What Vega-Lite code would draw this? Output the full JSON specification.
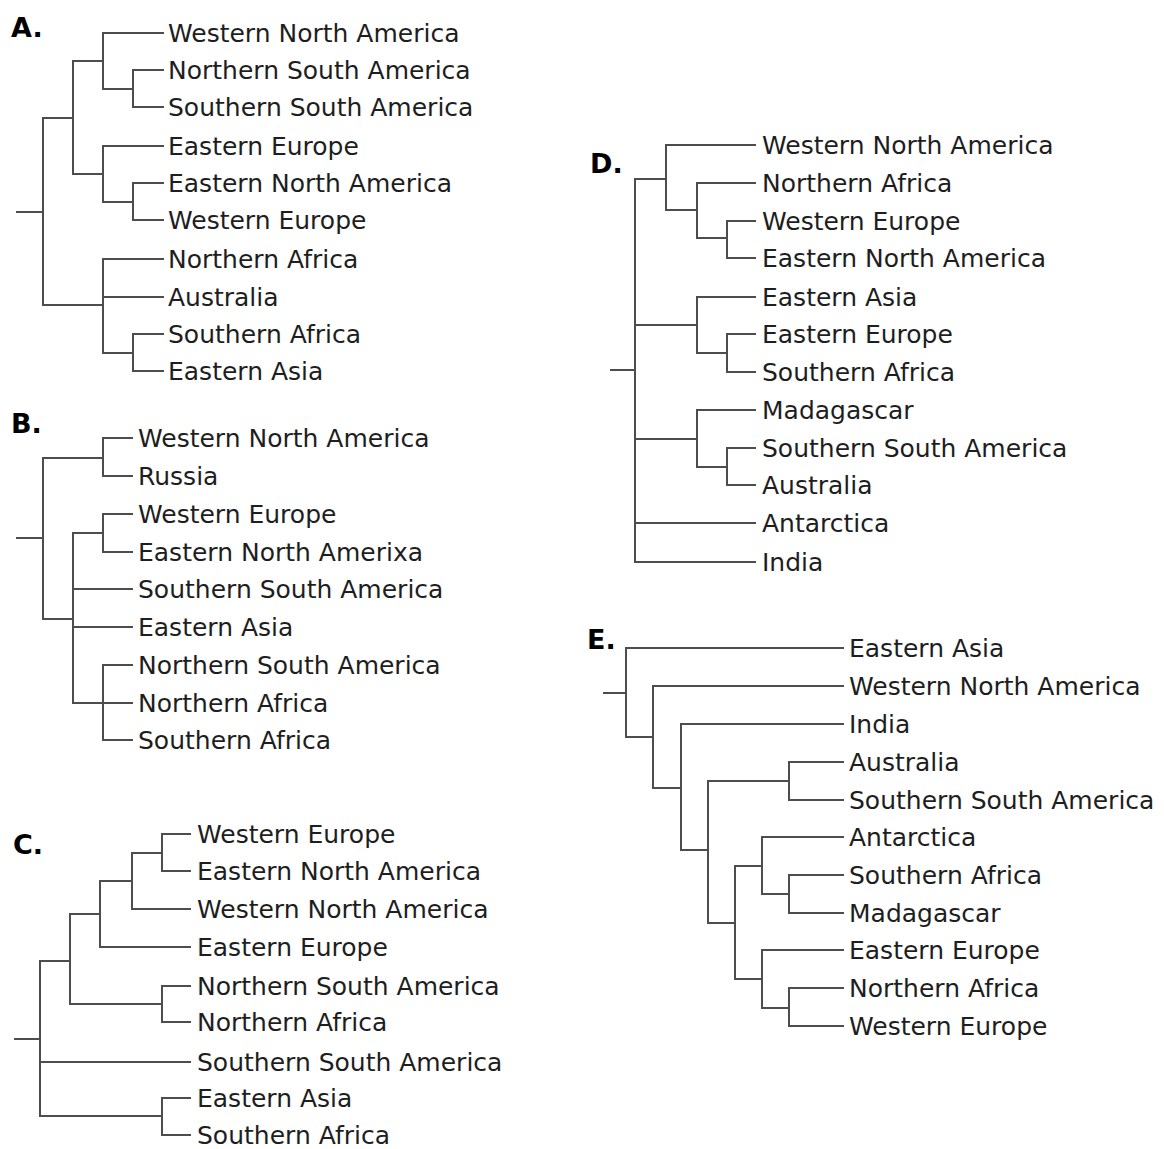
{
  "$schema": "https://vega.github.io/schema/vega-lite/v6.json",
  "width": 1164,
  "height": 1149,
  "padding": 0,
  "autosize": {"type": "fit", "contains": "padding"},
  "background": "white",
  "config": {"view": {"stroke": null}},
  "datasets": {
    "edges": [
      {"p":"A","x":17,"y":212,"x2":43,"y2":212},
      {"p":"A","x":43,"y":118,"x2":43,"y2":305},
      {"p":"A","x":43,"y":118,"x2":73,"y2":118},
      {"p":"A","x":43,"y":305,"x2":103,"y2":305},
      {"p":"A","x":73,"y":61,"x2":73,"y2":174},
      {"p":"A","x":73,"y":61,"x2":103,"y2":61},
      {"p":"A","x":73,"y":174,"x2":103,"y2":174},
      {"p":"A","x":103,"y":33,"x2":103,"y2":89},
      {"p":"A","x":103,"y":33,"x2":163,"y2":33},
      {"p":"A","x":103,"y":89,"x2":133,"y2":89},
      {"p":"A","x":133,"y":70,"x2":133,"y2":107},
      {"p":"A","x":133,"y":70,"x2":163,"y2":70},
      {"p":"A","x":133,"y":107,"x2":163,"y2":107},
      {"p":"A","x":103,"y":146,"x2":103,"y2":202},
      {"p":"A","x":103,"y":146,"x2":163,"y2":146},
      {"p":"A","x":103,"y":202,"x2":133,"y2":202},
      {"p":"A","x":133,"y":183,"x2":133,"y2":220},
      {"p":"A","x":133,"y":183,"x2":163,"y2":183},
      {"p":"A","x":133,"y":220,"x2":163,"y2":220},
      {"p":"A","x":103,"y":259,"x2":103,"y2":353},
      {"p":"A","x":103,"y":259,"x2":163,"y2":259},
      {"p":"A","x":103,"y":297,"x2":163,"y2":297},
      {"p":"A","x":103,"y":353,"x2":133,"y2":353},
      {"p":"A","x":133,"y":334,"x2":133,"y2":371},
      {"p":"A","x":133,"y":334,"x2":163,"y2":334},
      {"p":"A","x":133,"y":371,"x2":163,"y2":371},

      {"p":"B","x":17,"y":538,"x2":43,"y2":538},
      {"p":"B","x":43,"y":458,"x2":43,"y2":619},
      {"p":"B","x":43,"y":458,"x2":103,"y2":458},
      {"p":"B","x":43,"y":619,"x2":73,"y2":619},
      {"p":"B","x":103,"y":438,"x2":103,"y2":476},
      {"p":"B","x":103,"y":438,"x2":132,"y2":438},
      {"p":"B","x":103,"y":476,"x2":132,"y2":476},
      {"p":"B","x":73,"y":533,"x2":73,"y2":703},
      {"p":"B","x":73,"y":533,"x2":103,"y2":533},
      {"p":"B","x":73,"y":589,"x2":132,"y2":589},
      {"p":"B","x":73,"y":627,"x2":132,"y2":627},
      {"p":"B","x":73,"y":703,"x2":103,"y2":703},
      {"p":"B","x":103,"y":514,"x2":103,"y2":552},
      {"p":"B","x":103,"y":514,"x2":132,"y2":514},
      {"p":"B","x":103,"y":552,"x2":132,"y2":552},
      {"p":"B","x":103,"y":665,"x2":103,"y2":740},
      {"p":"B","x":103,"y":665,"x2":132,"y2":665},
      {"p":"B","x":103,"y":703,"x2":132,"y2":703},
      {"p":"B","x":103,"y":740,"x2":132,"y2":740},

      {"p":"C","x":15,"y":1039,"x2":40,"y2":1039},
      {"p":"C","x":40,"y":961,"x2":40,"y2":1116},
      {"p":"C","x":40,"y":961,"x2":70,"y2":961},
      {"p":"C","x":40,"y":1062,"x2":190,"y2":1062},
      {"p":"C","x":40,"y":1116,"x2":162,"y2":1116},
      {"p":"C","x":70,"y":914,"x2":70,"y2":1004},
      {"p":"C","x":70,"y":914,"x2":100,"y2":914},
      {"p":"C","x":70,"y":1004,"x2":162,"y2":1004},
      {"p":"C","x":100,"y":881,"x2":100,"y2":947},
      {"p":"C","x":100,"y":881,"x2":132,"y2":881},
      {"p":"C","x":100,"y":947,"x2":190,"y2":947},
      {"p":"C","x":132,"y":853,"x2":132,"y2":909},
      {"p":"C","x":132,"y":853,"x2":162,"y2":853},
      {"p":"C","x":132,"y":909,"x2":190,"y2":909},
      {"p":"C","x":162,"y":834,"x2":162,"y2":871},
      {"p":"C","x":162,"y":834,"x2":190,"y2":834},
      {"p":"C","x":162,"y":871,"x2":190,"y2":871},
      {"p":"C","x":162,"y":986,"x2":162,"y2":1022},
      {"p":"C","x":162,"y":986,"x2":190,"y2":986},
      {"p":"C","x":162,"y":1022,"x2":190,"y2":1022},
      {"p":"C","x":162,"y":1098,"x2":162,"y2":1135},
      {"p":"C","x":162,"y":1098,"x2":190,"y2":1098},
      {"p":"C","x":162,"y":1135,"x2":190,"y2":1135},

      {"p":"D","x":611,"y":370,"x2":635,"y2":370},
      {"p":"D","x":635,"y":179,"x2":635,"y2":562},
      {"p":"D","x":635,"y":179,"x2":666,"y2":179},
      {"p":"D","x":635,"y":325,"x2":697,"y2":325},
      {"p":"D","x":635,"y":439,"x2":697,"y2":439},
      {"p":"D","x":635,"y":523,"x2":755,"y2":523},
      {"p":"D","x":635,"y":562,"x2":755,"y2":562},
      {"p":"D","x":666,"y":145,"x2":666,"y2":210},
      {"p":"D","x":666,"y":145,"x2":755,"y2":145},
      {"p":"D","x":666,"y":210,"x2":697,"y2":210},
      {"p":"D","x":697,"y":183,"x2":697,"y2":238},
      {"p":"D","x":697,"y":183,"x2":755,"y2":183},
      {"p":"D","x":697,"y":238,"x2":727,"y2":238},
      {"p":"D","x":727,"y":221,"x2":727,"y2":258},
      {"p":"D","x":727,"y":221,"x2":755,"y2":221},
      {"p":"D","x":727,"y":258,"x2":755,"y2":258},
      {"p":"D","x":697,"y":297,"x2":697,"y2":353},
      {"p":"D","x":697,"y":297,"x2":755,"y2":297},
      {"p":"D","x":697,"y":353,"x2":727,"y2":353},
      {"p":"D","x":727,"y":334,"x2":727,"y2":372},
      {"p":"D","x":727,"y":334,"x2":755,"y2":334},
      {"p":"D","x":727,"y":372,"x2":755,"y2":372},
      {"p":"D","x":697,"y":410,"x2":697,"y2":467},
      {"p":"D","x":697,"y":410,"x2":755,"y2":410},
      {"p":"D","x":697,"y":467,"x2":727,"y2":467},
      {"p":"D","x":727,"y":448,"x2":727,"y2":485},
      {"p":"D","x":727,"y":448,"x2":755,"y2":448},
      {"p":"D","x":727,"y":485,"x2":755,"y2":485},

      {"p":"E","x":604,"y":693,"x2":626,"y2":693},
      {"p":"E","x":626,"y":648,"x2":626,"y2":737},
      {"p":"E","x":626,"y":648,"x2":843,"y2":648},
      {"p":"E","x":626,"y":737,"x2":653,"y2":737},
      {"p":"E","x":653,"y":686,"x2":653,"y2":788},
      {"p":"E","x":653,"y":686,"x2":843,"y2":686},
      {"p":"E","x":653,"y":788,"x2":681,"y2":788},
      {"p":"E","x":681,"y":724,"x2":681,"y2":850},
      {"p":"E","x":681,"y":724,"x2":843,"y2":724},
      {"p":"E","x":681,"y":850,"x2":708,"y2":850},
      {"p":"E","x":708,"y":781,"x2":708,"y2":923},
      {"p":"E","x":708,"y":781,"x2":789,"y2":781},
      {"p":"E","x":708,"y":923,"x2":735,"y2":923},
      {"p":"E","x":789,"y":762,"x2":789,"y2":800},
      {"p":"E","x":789,"y":762,"x2":843,"y2":762},
      {"p":"E","x":789,"y":800,"x2":843,"y2":800},
      {"p":"E","x":735,"y":866,"x2":735,"y2":979},
      {"p":"E","x":735,"y":866,"x2":762,"y2":866},
      {"p":"E","x":735,"y":979,"x2":762,"y2":979},
      {"p":"E","x":762,"y":837,"x2":762,"y2":894},
      {"p":"E","x":762,"y":837,"x2":843,"y2":837},
      {"p":"E","x":762,"y":894,"x2":789,"y2":894},
      {"p":"E","x":789,"y":875,"x2":789,"y2":913},
      {"p":"E","x":789,"y":875,"x2":843,"y2":875},
      {"p":"E","x":789,"y":913,"x2":843,"y2":913},
      {"p":"E","x":762,"y":950,"x2":762,"y2":1008},
      {"p":"E","x":762,"y":950,"x2":843,"y2":950},
      {"p":"E","x":762,"y":1008,"x2":789,"y2":1008},
      {"p":"E","x":789,"y":988,"x2":789,"y2":1026},
      {"p":"E","x":789,"y":988,"x2":843,"y2":988},
      {"p":"E","x":789,"y":1026,"x2":843,"y2":1026}
    ],
    "leaves": [
      {"x":168,"y":33,"t":"Western North America"},
      {"x":168,"y":70,"t":"Northern South America"},
      {"x":168,"y":107,"t":"Southern South America"},
      {"x":168,"y":146,"t":"Eastern Europe"},
      {"x":168,"y":183,"t":"Eastern North America"},
      {"x":168,"y":220,"t":"Western Europe"},
      {"x":168,"y":259,"t":"Northern Africa"},
      {"x":168,"y":297,"t":"Australia"},
      {"x":168,"y":334,"t":"Southern Africa"},
      {"x":168,"y":371,"t":"Eastern Asia"},

      {"x":138,"y":438,"t":"Western North America"},
      {"x":138,"y":476,"t":"Russia"},
      {"x":138,"y":514,"t":"Western Europe"},
      {"x":138,"y":552,"t":"Eastern North Amerixa"},
      {"x":138,"y":589,"t":"Southern South America"},
      {"x":138,"y":627,"t":"Eastern Asia"},
      {"x":138,"y":665,"t":"Northern South America"},
      {"x":138,"y":703,"t":"Northern Africa"},
      {"x":138,"y":740,"t":"Southern Africa"},

      {"x":197,"y":834,"t":"Western Europe"},
      {"x":197,"y":871,"t":"Eastern North America"},
      {"x":197,"y":909,"t":"Western North America"},
      {"x":197,"y":947,"t":"Eastern Europe"},
      {"x":197,"y":986,"t":"Northern South America"},
      {"x":197,"y":1022,"t":"Northern Africa"},
      {"x":197,"y":1062,"t":"Southern South America"},
      {"x":197,"y":1098,"t":"Eastern Asia"},
      {"x":197,"y":1135,"t":"Southern Africa"},

      {"x":762,"y":145,"t":"Western North America"},
      {"x":762,"y":183,"t":"Northern Africa"},
      {"x":762,"y":221,"t":"Western Europe"},
      {"x":762,"y":258,"t":"Eastern North America"},
      {"x":762,"y":297,"t":"Eastern Asia"},
      {"x":762,"y":334,"t":"Eastern Europe"},
      {"x":762,"y":372,"t":"Southern Africa"},
      {"x":762,"y":410,"t":"Madagascar"},
      {"x":762,"y":448,"t":"Southern South America"},
      {"x":762,"y":485,"t":"Australia"},
      {"x":762,"y":523,"t":"Antarctica"},
      {"x":762,"y":562,"t":"India"},

      {"x":849,"y":648,"t":"Eastern Asia"},
      {"x":849,"y":686,"t":"Western North America"},
      {"x":849,"y":724,"t":"India"},
      {"x":849,"y":762,"t":"Australia"},
      {"x":849,"y":800,"t":"Southern South America"},
      {"x":849,"y":837,"t":"Antarctica"},
      {"x":849,"y":875,"t":"Southern Africa"},
      {"x":849,"y":913,"t":"Madagascar"},
      {"x":849,"y":950,"t":"Eastern Europe"},
      {"x":849,"y":988,"t":"Northern Africa"},
      {"x":849,"y":1026,"t":"Western Europe"}
    ],
    "panels": [
      {"x":11,"y":29,"t":"A."},
      {"x":11,"y":425,"t":"B."},
      {"x":13,"y":846,"t":"C."},
      {"x":590,"y":165,"t":"D."},
      {"x":587,"y":641,"t":"E."}
    ]
  },
  "layer": [
    {
      "data": {"name": "edges"},
      "mark": {"type": "rule", "color": "#4d4d4d", "strokeWidth": 2, "strokeCap": "square"},
      "encoding": {
        "x": {"field": "x", "type": "quantitative", "scale": {"domain": [0, 1164], "nice": false, "zero": false}, "axis": null},
        "y": {"field": "y", "type": "quantitative", "scale": {"domain": [0, 1149], "nice": false, "zero": false, "reverse": true}, "axis": null},
        "x2": {"field": "x2"},
        "y2": {"field": "y2"}
      }
    },
    {
      "data": {"name": "leaves"},
      "mark": {"type": "text", "align": "left", "baseline": "middle", "font": "DejaVu Sans", "fontSize": 25, "color": "#1e1e1e", "dy": 1},
      "encoding": {
        "x": {"field": "x", "type": "quantitative"},
        "y": {"field": "y", "type": "quantitative"},
        "text": {"field": "t"}
      }
    },
    {
      "data": {"name": "panels"},
      "mark": {"type": "text", "align": "left", "baseline": "middle", "font": "DejaVu Sans", "fontSize": 27, "color": "#000000", "fontWeight": "bold"},
      "encoding": {
        "x": {"field": "x", "type": "quantitative"},
        "y": {"field": "y", "type": "quantitative"},
        "text": {"field": "t"}
      }
    }
  ]
}
